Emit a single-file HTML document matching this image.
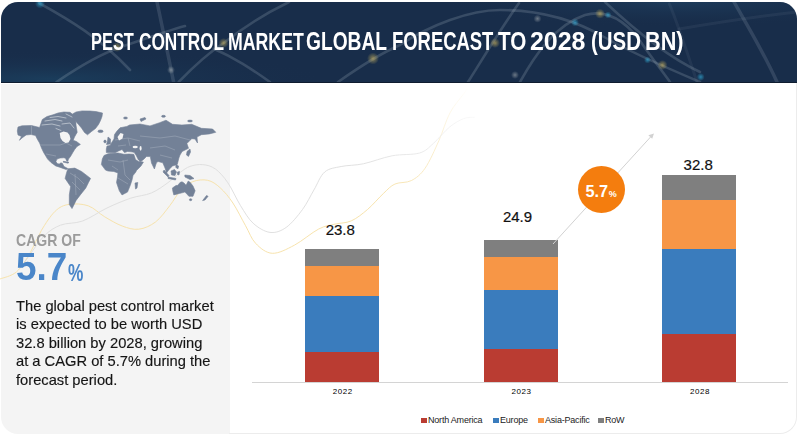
<!DOCTYPE html>
<html><head><meta charset="utf-8">
<style>
*{margin:0;padding:0;box-sizing:border-box}
html,body{width:800px;height:436px;background:#fff;overflow:hidden;position:relative;font-family:"Liberation Sans",sans-serif}
.abs{position:absolute}
#header{left:1px;top:2px;width:796px;height:81px;background:#182d4a;border-radius:17px 17px 0 0;overflow:hidden;border-bottom:1px solid #0f1d30}
.tw{position:absolute;font-weight:bold;color:#fff;white-space:nowrap;transform-origin:0 0}
.tw1{top:29px;font-size:23.3px}
.tw2{top:25.8px;font-size:26.6px}
#leftp{left:1px;top:84px;width:229px;height:350px;background:#f4f4f4;border-bottom-left-radius:17px}
#card{left:229px;top:83px;width:568px;height:351px;border-right:1px solid #ececec;border-bottom:1px solid #ececec;border-bottom-right-radius:17px}
#cagr{left:16px;top:230.5px;font-weight:bold;font-size:16.3px;color:#9b9b9b;transform-origin:0 0;transform:scaleX(0.862);white-space:nowrap}
#big{left:16px;top:245px;font-weight:bold;font-size:38.8px;color:#4a86c9;white-space:nowrap;transform-origin:0 0;transform:scaleX(0.95)}
#pct{left:68px;top:259px;font-weight:bold;font-size:24px;color:#4a86c9;white-space:nowrap;transform-origin:0 0;transform:scaleX(0.72)}
#para{left:16px;top:297px;font-size:15px;line-height:18.4px;color:#151515;-webkit-text-stroke:0.15px #151515;white-space:nowrap;transform-origin:0 0;transform:scaleX(0.98)}
.bar{position:absolute;width:74px}
.val{position:absolute;font-size:15px;color:#111;width:74px;text-align:center;-webkit-text-stroke:0.2px #111}
.yr{position:absolute;font-size:8px;color:#000;width:74px;text-align:center;font-weight:normal;letter-spacing:0.6px}
#axis{left:252px;top:382px;width:536px;height:1px;background:#d4d4d4}
.leg{position:absolute;top:415px;font-size:9px;color:#222;white-space:nowrap;letter-spacing:-0.2px}
.sq{display:inline-block;width:6px;height:5px;margin-right:1px;vertical-align:0px;position:relative;top:-0.5px}
#circ{left:577.5px;top:165.5px;width:47px;height:47px;border-radius:50%;background:#f47d0e}
#ctext{left:585.5px;top:182.4px;font-weight:bold;font-size:16.3px;color:#fff;white-space:nowrap}
#ctext small{font-size:9px;margin-left:0.5px}
</style></head><body>
<div id="header" class="abs">
<svg width="796" height="81" style="position:absolute;left:0;top:0" viewBox="1 2 796 81">
 <defs>
  <radialGradient id="hg" cx="0.06" cy="0.95" r="0.35"><stop offset="0" stop-color="#1f5a7c" stop-opacity="0.35"/><stop offset="1" stop-color="#1a2f4c" stop-opacity="0"/></radialGradient>
  <radialGradient id="hg2" cx="0.85" cy="0.0" r="0.3"><stop offset="0" stop-color="#234d70" stop-opacity="0.45"/><stop offset="1" stop-color="#1a2f4c" stop-opacity="0"/></radialGradient>
  <radialGradient id="gy"><stop offset="0" stop-color="#e8c860" stop-opacity="0.55"/><stop offset="1" stop-color="#f0d060" stop-opacity="0"/></radialGradient>
  <radialGradient id="gc"><stop offset="0" stop-color="#35b8e8" stop-opacity="0.6"/><stop offset="1" stop-color="#35c8f0" stop-opacity="0"/></radialGradient>
  <radialGradient id="gw"><stop offset="0" stop-color="#e8e8e0" stop-opacity="0.4"/><stop offset="1" stop-color="#e8e8e0" stop-opacity="0"/></radialGradient>
 </defs>
 <rect x="1" y="2" width="796" height="81" fill="url(#hg)"/>
 <rect x="1" y="2" width="796" height="81" fill="url(#hg2)"/>
 <g fill="none" stroke="#b8c6d4" stroke-linecap="round">
  <g stroke-opacity="0.2" stroke-width="2.6">
   <path d="M39,3 C70,20 100,38 130,70"/>
   <path d="M56.5,82 C80,66 100,54 121,47 C150,37 170,30 185,26"/>
   <path d="M178.7,82 C195,65 210,52 223.6,43 C240,30 260,16 289,2"/>
   <path d="M213.8,48.7 C235,58 250,68 270,82"/>
   <path d="M338,82 C355,70 375,56 400,45 C430,25 470,10 500,10 C540,10 575,20 605,37.5 C630,52 660,65 700,82"/>
   <path d="M519,3 C500,30 485,55 468,82"/>
   <path d="M520,82 C535,55 555,25 585,15 C610,8 630,25 645,48 C655,62 665,75 670,82"/>
   <path d="M605,2 C640,35 670,58 700,72"/>
  </g>
  <g stroke-opacity="0.16" stroke-width="3.5">
   <path d="M157,2 C163,30 168,55 174,84"/>
   <path d="M734,2 C750,30 765,55 777,82"/>
  </g>
  <g stroke-opacity="0.07" stroke-width="3">
   <path d="M679,29 C720,22 760,16 797,12"/>
   <path d="M669.5,4 C680,30 688,55 697,82"/>
  </g>
 </g>
 <circle cx="40" cy="3.5" r="5" fill="url(#gc)"/>
 <circle cx="117" cy="47" r="5" fill="url(#gy)"/>
 <circle cx="171" cy="70" r="4" fill="url(#gw)"/>
 <circle cx="223.6" cy="43" r="5" fill="url(#gy)"/>
 <circle cx="373" cy="58.5" r="6" fill="url(#gy)"/>
 <circle cx="495" cy="43" r="5" fill="url(#gy)"/>
 <circle cx="537.5" cy="18.7" r="4" fill="url(#gw)"/>
 <circle cx="515" cy="75" r="4" fill="url(#gw)"/>
 <circle cx="575" cy="22.5" r="4" fill="url(#gc)"/>
 <circle cx="600" cy="13.7" r="5" fill="url(#gy)"/>
 <circle cx="608" cy="15" r="3.5" fill="url(#gc)"/>
 <circle cx="647.5" cy="60" r="3.5" fill="url(#gc)"/>
 <circle cx="662.5" cy="65" r="5" fill="url(#gy)"/>
 <circle cx="700.7" cy="77" r="4" fill="url(#gc)"/>
</svg>
</div>
<div class="tw tw1" style="left:91px;transform:scaleX(0.704)">PEST</div><div class="tw tw1" style="left:139px;transform:scaleX(0.739)">CONTROL</div><div class="tw tw1" style="left:228px;transform:scaleX(0.761)">MARKET</div><div class="tw tw2" style="left:306px;transform:scaleX(0.722)">GLOBAL</div><div class="tw tw2" style="left:392px;transform:scaleX(0.693)">FORECAST</div><div class="tw tw2" style="left:498px;transform:scaleX(0.777)">TO</div><div class="tw tw2" style="left:530px;transform:scaleX(0.938)">2028</div><div class="tw tw2" style="left:591px;transform:scaleX(0.768)">(USD</div><div class="tw tw2" style="left:645px;transform:scaleX(0.815)">BN)</div>

<div id="leftp" class="abs"></div>
<div id="card" class="abs"></div>

<svg class="abs" style="left:0;top:0" width="800" height="436" viewBox="0 0 800 436">
 <defs><linearGradient id="fadeg" gradientUnits="userSpaceOnUse" x1="385" y1="195" x2="472" y2="88"><stop offset="0" stop-color="#fff"/><stop offset="0.55" stop-color="#888"/><stop offset="1" stop-color="#000"/></linearGradient>
 <mask id="fade" maskUnits="userSpaceOnUse" x="0" y="0" width="800" height="436"><rect width="800" height="436" fill="url(#fadeg)"/></mask></defs>
 <g fill="none" stroke-width="1" mask="url(#fade)">
  <path stroke="#f6e0a4" stroke-width="0.9" d="M0.0,279.0 C2.8,277.8 11.4,276.3 16.5,271.9 C21.6,267.5 26.2,259.5 30.3,252.6 C34.4,245.7 37.2,237.5 41.3,230.6 C45.4,223.7 50.5,215.7 55.1,211.3 C59.7,206.9 63.4,205.3 68.9,204.4 C74.4,203.5 82.2,203.7 88.2,205.8 C94.2,207.9 99.0,213.4 104.7,216.8 C110.4,220.2 116.7,224.0 122.4,226.1 C128.1,228.2 133.4,229.9 138.9,229.2 C144.4,228.5 150.3,225.9 155.5,222.0 C160.7,218.1 165.8,210.7 169.9,205.5 C174.0,200.3 176.4,195.0 180.2,191.0 C184.0,187.0 188.0,183.5 192.6,181.7 C197.2,179.9 203.1,179.3 207.7,180.3 C212.3,181.3 216.1,184.1 220.3,187.9 C224.5,191.7 228.7,196.7 232.9,203.0 C237.1,209.3 241.8,219.1 245.6,225.8 C249.4,232.5 251.2,238.8 255.7,243.4 C260.1,248.0 265.9,253.0 272.3,253.3 C278.8,253.6 286.7,249.2 294.4,245.2 C302.1,241.1 311.9,232.5 318.7,229.0 C325.5,225.5 329.6,225.4 335.0,224.1 C340.4,222.8 345.8,223.3 351.2,220.9 C356.6,218.5 362.1,214.1 367.5,209.5 C372.9,204.9 379.1,197.4 383.7,193.2 C388.3,188.9 390.4,186.1 395.0,184.0 C399.6,181.9 406.3,183.2 411.3,180.6 C416.3,178.0 420.5,174.9 425.1,168.2 C429.7,161.5 434.8,149.8 438.9,140.6 C443.0,131.4 445.8,120.8 449.9,113.0 C454.0,105.2 460.3,98.5 463.7,93.8 C467.1,89.1 468.9,86.5 470.0,85.0"/>
  <path stroke="#dddddd" stroke-width="0.9" d="M20.0,268.0 C21.2,266.4 23.5,263.4 27.5,258.1 C31.5,252.8 38.5,241.6 44.0,236.1 C49.5,230.6 54.2,227.6 60.6,225.1 C67.0,222.6 74.9,223.8 82.6,221.0 C90.3,218.2 99.0,211.8 107.0,208.0 C115.0,204.2 123.3,200.7 130.7,198.2 C138.1,195.7 145.1,195.6 151.3,193.0 C157.5,190.4 163.1,186.1 167.9,182.7 C172.7,179.3 176.5,175.1 180.2,172.4 C183.9,169.7 186.3,167.7 190.0,166.4 C193.7,165.1 198.4,164.2 202.6,164.6 C206.8,165.0 211.1,165.9 215.3,168.9 C219.5,171.9 223.7,176.7 227.9,182.8 C232.1,188.9 236.3,198.9 240.5,205.6 C244.7,212.3 248.2,218.7 253.1,223.2 C258.0,227.7 264.5,231.7 270.0,232.4 C275.5,233.1 280.8,231.2 286.2,227.4 C291.6,223.6 297.9,215.7 302.5,209.5 C307.1,203.3 310.2,196.2 313.9,190.0 C317.6,183.8 320.1,175.9 324.7,172.0 C329.2,168.1 334.8,167.9 341.2,166.5 C347.6,165.1 354.8,165.6 363.3,163.8 C371.8,162.0 382.6,157.6 392.0,155.8 C401.4,154.0 412.7,155.1 419.6,153.0 C426.5,150.9 428.3,147.8 433.4,143.4 C438.4,139.0 444.8,130.9 449.9,126.8 C454.9,122.7 459.6,120.2 463.7,118.6 C467.8,117.0 472.9,117.4 474.7,117.2"/>
 </g>
</svg>

<svg class="abs" style="left:0;top:0" width="800" height="436" viewBox="0 0 800 436">
 <g fill="#738197" stroke="#738197" stroke-width="0.6" stroke-linejoin="round">
  <path d="M18,127 L22,125.8 L31.5,125.5 L39.6,127.5 L42.3,119.5 L47,116.5 L53,114.8 L58,113 L63.8,112 L70,112.3 L73.2,114.8 L75.9,121.5 L76,125 L77.2,132.3 L74.5,137 L73.2,140.3 L76.5,141.5 L80.4,144.4 L77,146.5 L74.5,149.7 L72.5,153 L70.5,156.5 L68.5,159 L67.8,161.3 L66.6,160.8 L65.5,158.3 L63.8,157.8 L60,158 L57,159.1 L55.9,161.5 L57.2,163.6 L59.2,164.1 L61,162.8 L62.5,163.5 L64,166.5 L67.8,168.5 L66.3,169.6 L63.8,168.7 L59,167 L55.7,165.9 L51,162.5 L47.6,159.1 L43.6,152.4 L41.5,148 L39.6,143 L37.5,139.5 L35.5,135.5 L31,134.5 L26.1,135 L22,138 L19.4,140.3 L21.5,136.5 L18,135 L17.3,131 Z"/>
  <path d="M72.5,114 L76,112 L82,110.9 L90,111 L96,111.6 L102.5,113 L102,116.5 L100.5,120.5 L98.5,124.5 L95.5,128.5 L91.5,131.5 L87.5,134.8 L84.5,132.5 L81.5,128 L78.5,124.5 L75.5,121 L73,117.5 Z"/>
  <ellipse cx="100.5" cy="131.3" rx="2.6" ry="1.3"/>
  <path d="M67.9,168.8 L74.8,168.1 L81.6,171.5 L90.6,178.4 L88.5,182.5 L85.8,188 L80.3,194.9 L76.1,200.4 L73.4,205.9 L72,208.6 L69.3,204.5 L69.3,194.9 L70.6,186.6 L65.1,178.4 L66.5,172.9 Z"/>
  <path d="M63.5,161.3 L69,162.3 L68,163.2 L63,162.1 Z"/>
  <path d="M106.3,149 L107,146 L110,145.5 L112,142 L114,139 L114.5,134.6 L117,131 L120,127.8 L126.9,126.4 L129.6,125 L140,124 L150,125.9 L159.6,122.7 L166,120.2 L172.5,124.3 L182,125 L191.7,124.3 L201.4,128.3 L212.6,129 L215.8,132.3 L209.4,133.9 L201.4,134.7 L197,137 L197.5,143 L195,139 L191.7,138.7 L186.9,143.5 L188.5,148.3 L182.1,151.5 L180,155 L178.9,158 L177.3,164.4 L172.5,166 L169.3,169.2 L166.5,173 L165,168 L162.8,162.8 L158,161.5 L156.4,162.8 L154.4,169 L151.5,163 L150.3,156.6 L146.5,156.5 L143.5,159.5 L140.5,161.8 L138.5,160 L136,155 L134,152.3 L131,151.8 L127.5,151.5 L124.5,152.6 L122,149.5 L118.5,151 L115,152.8 L106.3,152.5 Z"/>
  <path d="M108,137 L110.5,139 L110.4,144 L106.5,144.5 L107.5,141 Z"/>
  <ellipse cx="105" cy="141.5" rx="1.2" ry="1.4"/>
  <path d="M104,155.5 L108,153.8 L113,153.2 L118,153 L124,154.3 L129,154 L133.8,154.3 L135.5,159.5 L138.5,161.5 L143.4,162.1 L141,166 L136.5,170.4 L135.8,172 L133,175.6 L132,180 L130.3,185.3 L127.5,192.1 L122,194.9 L119.3,190.8 L116.5,182.5 L117.5,177 L117.9,172.9 L113.8,171.5 L108,171 L105.5,170.1 L101.4,164.6 L102.3,159 Z"/>
  <path d="M135,183 L137.8,182.5 L137,188 L135.5,189 Z"/>
  <path d="M187,151.5 L190,149 L190.5,152 L188.5,156.4 L186.5,155 Z"/>
  <path d="M164,170 L169,175.5 L168,177 L163,172 Z"/>
  <path d="M168.3,177 L176,178.5 L175.5,180 L168,178.5 Z"/>
  <path d="M171,171 L174.5,169.5 L176.5,172 L175,175.5 L171.5,175 Z"/>
  <path d="M176,164.6 L178.6,166 L178,168.8 L175.8,167.5 Z"/>
  <path d="M177.5,172 L179.5,171.5 L179,175 L177.5,174.5 Z"/>
  <path d="M184.8,175 L190,175.5 L194,178.5 L190,179.5 L185,177 Z"/>
  <path d="M172.4,188 L176,185.5 L177.9,185.3 L180,182.5 L182,181.8 L184,183 L186.1,185.3 L188.2,181.1 L190.3,182.5 L193,186 L195.1,190.8 L193,196.3 L188.9,196.3 L186,193 L184.8,192.1 L179.3,193.5 L173.8,194.9 L172.8,191 Z"/>
  <ellipse cx="190.6" cy="199.7" rx="1.2" ry="1"/>
  <path d="M206.5,195.5 L208.1,196.3 L205,200 L202.6,200.6 Z"/>
  <path d="M140,119 L145,117.5 L146,119 L141,121.5 Z"/>
  <ellipse cx="163.5" cy="116.3" rx="2" ry="1"/>
  <ellipse cx="190" cy="121" rx="2.5" ry="0.9"/>
  <ellipse cx="125.5" cy="118" rx="2" ry="1"/>
 </g>
  <g fill="none" stroke="#dde2e8" stroke-width="0.6" stroke-linecap="round">
  <path d="M42,125 L52,124 L60,126"/>
  <path d="M45,121 L55,119.5 L62,121"/>
  <path d="M50,117.5 L58,116.5 L66,118"/>
  <path d="M62,124 L70,123 L74,128"/>
  <path d="M66,114 L72,117"/>
  <path d="M56,128.5 L61,130.5"/>
 </g>
 <g fill="none" stroke="#aab4c2" stroke-width="0.5" stroke-opacity="0.9">
  <path d="M31.5,125.5 L31.5,135"/>
  <path d="M40.5,145 L60,145 L66,143 L72,146"/>
  <path d="M46,154 L56,156"/>
  <path d="M70,173 L78,178 L84,184 M72,182 L80,190 M75,174 L76,195"/>
  <path d="M108,160 L120,162 L128,160 M112,166 L118,170 M123,160 L125,175 L130,180 M118,178 L128,184"/>
  <path d="M115,140 L128,138 L140,141 M128,138 L130,146 M118,146 L126,145"/>
  <path d="M140,136 L160,138 L175,136 L190,140 M150,148 L165,146 L175,150 M160,155 L172,158"/>
 </g>
 <g fill="#f4f4f4">
  <path d="M117.5,137 L120.5,133 L123.5,134 L122.5,138.5 L119,140.5 Z"/>
  <path d="M59.7,133 L63.5,131.5 L67.5,132.5 L69.5,135 L70.5,139 L68.5,142.5 L65.5,143 L62.5,141 L60.5,138 Z"/>
  <ellipse cx="135.2" cy="147" rx="2.6" ry="1.3"/>
  <ellipse cx="140.6" cy="148.3" rx="1" ry="2.4"/>
 </g>
</svg>
<div id="cagr" class="abs">CAGR OF</div>
<div id="big" class="abs">5.7</div>
<div id="pct" class="abs">%</div>
<div id="para" class="abs">The global pest control market<br>is expected to be worth USD<br>32.8 billion by 2028, growing<br>at a CAGR of 5.7% during the<br>forecast period.</div>

<div id="axis" class="abs"></div>
<!-- bar1 -->
<div class="bar" style="left:305px;top:249px;height:17px;background:#7f7f7f"></div>
<div class="bar" style="left:305px;top:266px;height:30px;background:#f79646"></div>
<div class="bar" style="left:305px;top:296px;height:55.5px;background:#3a7cbd"></div>
<div class="bar" style="left:305px;top:351.5px;height:30.5px;background:#ba3c32"></div>
<div class="val" style="left:303.3px;top:221px">23.8</div>
<div class="yr" style="left:305.8px;top:386.6px">2022</div>
<!-- bar2 -->
<div class="bar" style="left:483.5px;top:240px;height:16.6px;background:#7f7f7f"></div>
<div class="bar" style="left:483.5px;top:256.6px;height:33.3px;background:#f79646"></div>
<div class="bar" style="left:483.5px;top:289.9px;height:58.9px;background:#3a7cbd"></div>
<div class="bar" style="left:483.5px;top:348.8px;height:33.2px;background:#ba3c32"></div>
<div class="val" style="left:480.5px;top:208px">24.9</div>
<div class="yr" style="left:484.5px;top:386.6px">2023</div>
<!-- bar3 -->
<div class="bar" style="left:662px;top:175px;height:24.5px;background:#7f7f7f"></div>
<div class="bar" style="left:662px;top:199.5px;height:49.3px;background:#f79646"></div>
<div class="bar" style="left:662px;top:248.8px;height:85.5px;background:#3a7cbd"></div>
<div class="bar" style="left:662px;top:334.3px;height:47.7px;background:#ba3c32"></div>
<div class="val" style="left:661.2px;top:156px">32.8</div>
<div class="yr" style="left:663px;top:386.6px">2028</div>

<svg class="abs" style="left:0;top:0" width="800" height="436" viewBox="0 0 800 436">
 <line x1="553" y1="244" x2="651" y2="136.5" stroke="#d2d2d2" stroke-width="1"/>
 <path d="M654,133.5 L648.3,135.3 L652.2,138.8 Z" fill="#d2d2d2"/>
</svg>
<div id="circ" class="abs"></div>
<div id="ctext" class="abs">5.7<small>%</small></div>

<div class="leg" style="left:421px"><span class="sq" style="background:#ba3c32"></span>North America</div>
<div class="leg" style="left:493px"><span class="sq" style="background:#3a7cbd"></span>Europe</div>
<div class="leg" style="left:538px"><span class="sq" style="background:#f79646"></span>Asia-Pacific</div>
<div class="leg" style="left:598px"><span class="sq" style="background:#7f7f7f"></span>RoW</div>

</body></html>
